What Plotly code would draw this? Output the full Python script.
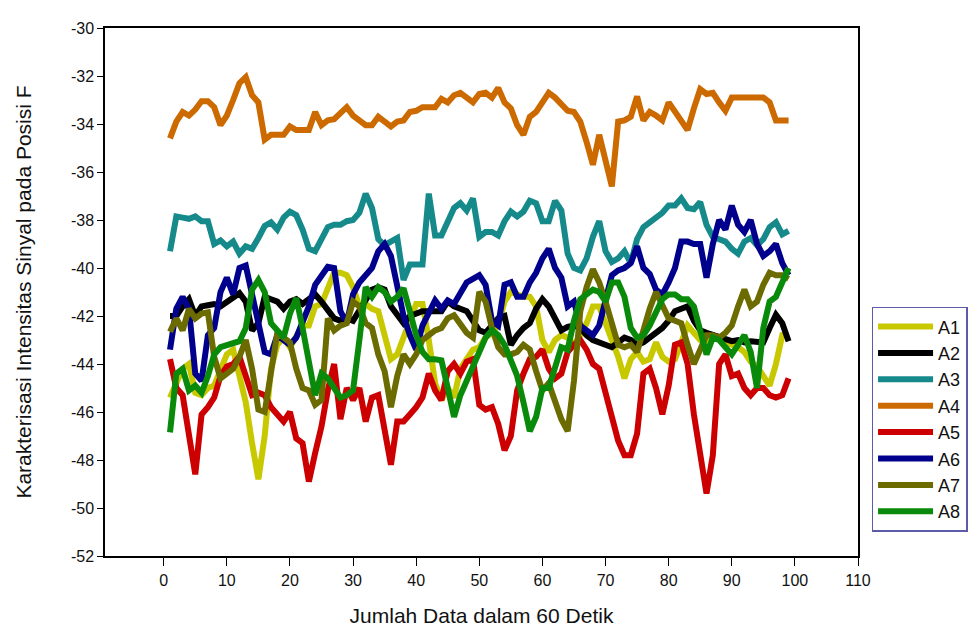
import plotly.graph_objects as go

x_vals = list(range(1, 100))

A1 = [-45.4, -44.8, -44.2, -44.0, -45.2, -45.3, -45.0, -44.9, -44.3, -43.6,
      -43.4, -44.5, -45.6, -47.3, -48.8, -47.0, -44.2, -43.2, -42.9, -43.3,
      -42.8, -42.4, -42.4, -41.6, -41.5, -40.8, -40.2, -40.2, -40.3, -40.8,
      -41.6, -41.5, -41.7, -41.8, -42.7, -43.8, -43.6, -42.8, -42.2, -41.5,
      -41.5, -43.0, -44.8, -45.5, -45.0, -45.4, -44.2, -43.8, -43.4, -43.3,
      -42.9, -42.7, -42.4, -41.4, -41.0, -41.1, -41.2, -41.2, -41.6, -43.0,
      -43.5, -43.0, -42.8, -42.9, -43.2, -42.8, -42.3, -41.6, -41.6, -42.3,
      -43.0, -43.7, -44.6, -43.8, -43.5, -43.9, -43.8, -43.1, -43.7, -43.9,
      -43.8, -43.0, -42.4, -42.7, -43.0, -43.2, -42.8, -42.9, -43.1, -43.2,
      -43.3, -43.5, -43.9, -44.1, -44.5, -44.9, -44.0, -42.8, -42.8]

A2 = [-42.0, -42.0, -41.6, -41.3, -42.0, -41.6, -41.55, -41.5, -41.6, -41.4,
      -41.2, -41.05, -41.4, -42.6, -42.3, -41.2, -41.3, -41.4, -41.7, -41.4,
      -41.3, -41.5, -41.3, -41.1, -41.4, -41.8, -42.1, -42.2, -42.1, -42.2,
      -41.8, -41.3, -40.9, -40.8, -40.9, -41.6, -42.0, -42.3, -42.0, -41.9,
      -41.8, -41.8, -41.8, -41.8, -41.4, -41.6, -41.7, -41.8, -42.2, -42.6,
      -42.7, -42.4, -42.1, -42.0, -43.2, -42.8, -42.5, -42.3, -41.7, -41.3,
      -41.6, -42.1, -42.6, -42.45, -42.4, -42.5, -42.8, -43.0, -43.1, -43.2,
      -43.3, -43.1, -42.9, -43.0, -43.2, -43.1, -42.9, -42.7, -42.5, -42.2,
      -41.8, -41.7, -41.6, -42.2, -42.6, -42.7, -42.8, -42.9, -43.0, -43.05,
      -43.0, -43.1, -43.05, -43.1, -43.1, -42.5, -41.95, -42.3, -43.05]

A3 = [-39.3, -37.85, -37.9, -37.95, -37.85, -38.05, -38.05, -39.0, -38.85, -39.1,
      -38.9, -39.4, -39.1, -39.2, -38.75, -38.25, -38.1, -38.4, -37.9, -37.65,
      -37.8, -38.4, -39.2, -39.3, -38.8, -38.3, -38.2, -38.2, -38.05, -38.0,
      -37.7, -36.9, -37.5, -38.8, -39.05, -38.9, -38.75, -40.5, -39.85, -39.85,
      -39.85, -36.9, -38.65, -38.65, -38.1, -37.5, -37.3, -37.6, -37.1, -38.7,
      -38.5, -38.5, -38.65, -38.05, -37.65, -37.85, -37.65, -37.2, -37.3, -38.05,
      -38.05, -37.2, -37.6, -39.4, -40.0, -40.1, -39.6, -38.7, -38.05, -39.3,
      -39.75, -39.6, -39.3, -39.8, -38.8, -38.3, -38.1, -37.9, -37.7, -37.4,
      -37.4, -37.1, -37.5, -37.55, -37.25, -38.2, -38.7, -38.8, -38.9, -39.2,
      -39.4, -38.9, -38.75, -39.05, -38.8, -38.3, -38.1, -38.6, -38.45]

A4 = [-34.6, -33.9, -33.5, -33.65, -33.4, -33.05, -33.05, -33.3, -34.05, -33.65,
      -33.0, -32.3, -32.05, -32.8, -33.1, -34.65, -34.45, -34.45, -34.45, -34.1,
      -34.25, -34.25, -34.25, -33.5, -34.05, -33.85, -33.8, -33.55, -33.3, -33.65,
      -33.85, -34.05, -34.05, -33.7, -33.9, -34.1, -33.9, -33.85, -33.5, -33.45,
      -33.3, -33.3, -33.3, -32.95, -33.1, -32.8, -32.7, -32.9, -33.1, -32.75,
      -32.7, -32.9, -32.5, -33.1, -33.35, -34.05, -34.45, -33.7, -33.5, -33.1,
      -32.7, -32.9, -33.2, -33.45, -33.5, -33.9, -34.75, -35.7, -34.45, -35.6,
      -36.6, -33.9, -33.85, -33.7, -32.85, -33.85, -33.5, -33.65, -33.85, -33.1,
      -33.5, -33.85, -34.25, -33.35, -32.55, -32.75, -32.7, -33.1, -33.45, -32.9,
      -32.9, -32.9, -32.9, -32.9, -32.9, -33.1, -33.85, -33.85, -33.85]

A5 = [-43.8, -45.0, -45.3, -46.8, -48.6, -46.1, -45.8, -45.4, -44.5, -44.1,
      -44.0, -43.7, -44.6, -45.3, -45.2, -45.3, -45.8, -46.1, -46.4, -46.0,
      -47.1, -47.3, -48.9, -47.7, -46.6, -45.1, -44.0, -46.3, -45.0, -45.5,
      -45.0, -46.4, -45.4, -45.3, -46.9, -48.2, -46.4, -46.4, -46.1, -45.8,
      -45.4, -44.4, -45.1, -45.5, -44.3, -44.0, -44.4, -43.9, -43.8, -45.7,
      -45.9, -45.8, -46.5, -47.6, -47.0, -45.1, -44.4, -43.8, -43.7, -43.4,
      -44.2, -44.6, -44.4, -43.5, -43.2, -43.0, -43.4, -44.0, -44.2, -45.1,
      -46.2, -47.2, -47.8, -47.8, -46.9, -44.4, -44.2, -45.0, -46.1, -44.9,
      -43.2, -43.1, -44.0, -46.1, -47.6, -49.4, -47.8, -44.0, -43.6, -44.5,
      -44.4, -45.0, -45.3, -45.0, -45.0, -45.3, -45.4, -45.3, -44.6]

A6 = [-43.4, -41.7, -41.2, -41.7, -44.4, -44.7, -42.8, -42.5, -41.0, -40.4,
      -41.1, -40.0, -39.9, -41.1, -42.5, -43.5, -43.6, -42.8, -43.0, -43.2,
      -42.9, -42.2, -41.6, -40.7, -40.3, -39.95, -40.0, -41.8, -42.3, -41.1,
      -40.6, -40.3, -40.0, -39.3, -39.0, -39.5, -40.9, -42.0, -42.8, -43.4,
      -42.4, -41.8, -41.35, -41.7, -41.35, -41.5, -41.1, -40.6, -40.45, -40.3,
      -40.7, -42.2, -42.4, -40.7, -40.6, -41.2, -41.2, -40.6, -40.2, -39.6,
      -39.2, -40.0, -40.4, -41.6, -41.4, -42.4, -42.6, -42.8, -42.4, -41.3,
      -40.3, -40.1, -40.0, -39.8, -39.1, -40.0, -40.25, -40.9, -41.1, -40.6,
      -40.0, -38.9, -38.9, -39.0, -39.0, -40.4, -39.0, -38.0, -38.4, -37.4,
      -38.2, -38.5, -38.0, -39.0, -39.5, -39.3, -39.0, -39.8, -40.3]

A7 = [-42.66, -42.1, -42.6, -41.7, -42.1, -41.9, -41.85, -43.7, -44.6, -44.4,
      -44.2, -43.7, -43.0, -44.2, -45.9, -46.0, -44.5, -42.7, -42.9, -43.1,
      -44.2, -45.0, -45.1, -45.7, -45.5, -42.1, -42.6, -42.4, -42.3, -41.4,
      -41.6, -42.3, -42.5, -43.6, -44.3, -45.8, -44.5, -43.6, -44.0, -43.6,
      -43.0, -42.8, -42.6, -42.5, -42.1, -41.97, -42.3, -42.7, -42.9, -41.0,
      -41.4, -42.5, -43.3, -43.6, -43.6, -43.5, -43.2, -43.4, -44.3, -45.1,
      -44.8, -45.6, -46.3, -46.8, -44.7, -41.8, -40.8, -40.05, -40.6, -41.4,
      -42.2, -43.2, -43.3, -43.2, -43.5, -42.5, -41.7, -41.0, -41.6, -42.1,
      -42.2, -42.3, -43.2, -44.0, -43.4, -42.8, -42.8, -42.9, -42.7, -42.4,
      -41.6, -40.9, -41.6, -41.4, -40.7, -40.2, -40.3, -40.3, -40.45]

A8 = [-46.85, -44.4, -44.2, -45.1, -44.9, -45.2, -44.5, -43.6, -43.3, -43.2,
      -43.15, -43.05, -42.5, -40.9, -40.5, -41.0, -42.3, -42.6, -42.9, -41.9,
      -41.25, -42.5, -44.0, -45.3, -44.4, -44.6, -45.0, -45.4, -45.3, -45.1,
      -43.0, -40.8, -41.2, -40.8, -41.0, -41.4, -41.2, -40.85, -41.8, -42.8,
      -43.5, -43.8, -43.8, -43.85, -45.0, -46.2, -45.3, -44.7, -44.2, -43.5,
      -42.9, -42.6, -42.8, -43.2, -43.8, -44.5, -45.6, -46.8, -46.2, -45.0,
      -45.0, -44.2, -43.3, -43.4, -42.2, -41.3, -41.1, -40.9, -41.0, -41.4,
      -40.6, -40.6, -41.2, -42.5, -42.9, -42.8, -42.4, -41.9, -41.3, -41.1,
      -41.1, -41.3, -41.3, -41.6, -42.6, -43.6, -42.9, -43.0, -43.3, -43.6,
      -43.2, -42.8, -43.5, -45.0, -42.5, -41.4, -41.2, -40.6, -40.0]

series_names = ["A1", "A2", "A3", "A4", "A5", "A6", "A7", "A8"]
series_values = [A1, A2, A3, A4, A5, A6, A7, A8]
series_colors = ["#c8c800", "#000000", "#168a8a", "#cc6a00",
                 "#cc0000", "#00008c", "#6b6b00", "#0a8a0a"]

x_ticks = list(range(0, 111, 10))
y_ticks = list(range(-52, -29, 2))
y_tick_text = [str(v) for v in y_ticks]

fig = go.Figure()
for name, vals, col in zip(series_names, series_values, series_colors):
    fig.add_trace(go.Scatter(x=x_vals, y=vals, mode="lines", name=name,
                             line=dict(color=col, width=6)))

font_main = "Liberation Sans Narrow, Arial Narrow, Liberation Sans, Arial"

fig.update_layout(
    width=979, height=638,
    paper_bgcolor="white", plot_bgcolor="white",
    margin=dict(l=97, r=129, t=15, b=90),
    font=dict(family=font_main, size=15, color="#111111"),
    showlegend=True,
    legend=dict(x=1.018, y=0.472, xanchor="left", yanchor="top",
                bordercolor="#5b5ba8", borderwidth=1.5, bgcolor="white",
                font=dict(family="Liberation Sans, Arial", size=18, color="#111111"),
                itemwidth=55, tracegroupgap=0),
    xaxis=dict(range=[-9.3, 110], tickvals=x_ticks, ticks="outside", ticklen=8,
               tickwidth=1, tickcolor="black", showgrid=False, zeroline=False,
               showline=True, linecolor="black", linewidth=1.5, mirror=True,
               ticklabelstandoff=1, tickfont=dict(size=16),
               title=dict(text="Jumlah Data dalam 60 Detik",
                          font=dict(family=font_main, size=21), standoff=20)),
    yaxis=dict(range=[-52, -30], tickvals=y_ticks, ticktext=y_tick_text,
               ticks="outside", ticklen=6,
               tickwidth=1, tickcolor="black", showgrid=False, zeroline=False,
               showline=True, linecolor="black", linewidth=1.5, mirror=True,
               tickfont=dict(size=16),
               title=dict(text="Karakterisasi Intensitas Sinyal pada Posisi F",
                          font=dict(family=font_main, size=21), standoff=34)),
)

fig.write_html("out.html")
